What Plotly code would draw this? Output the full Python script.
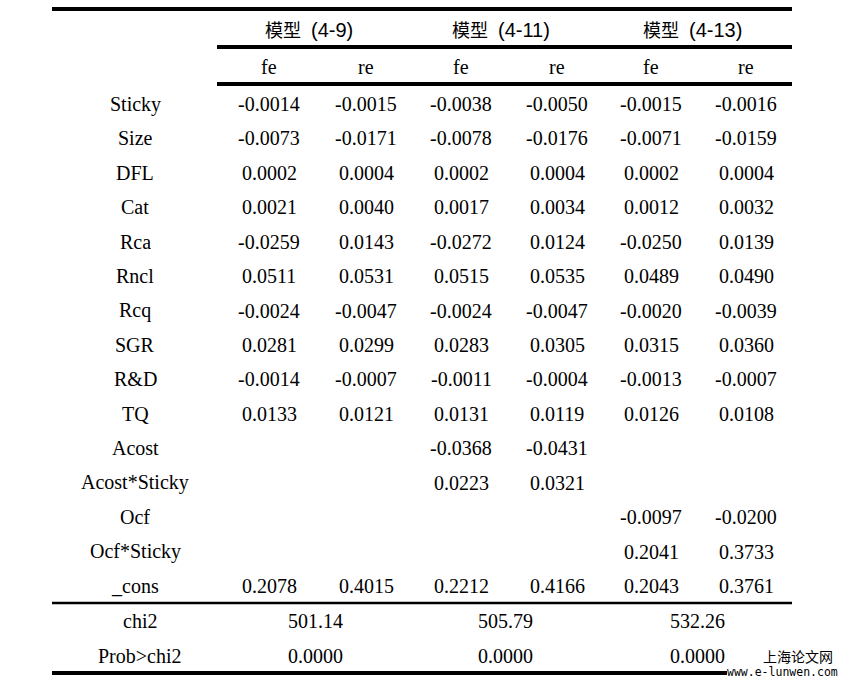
import plotly.graph_objects as go

rows = ["Sticky", "Size", "DFL", "Cat", "Rca", "Rncl", "Rcq", "SGR", "R&D", "TQ",
        "Acost", "Acost*Sticky", "Ocf", "Ocf*Sticky", "_cons"]
model_name = "模型"
model_ids = ["(4-9)", "(4-11)", "(4-13)"]
subcols = ["fe", "re", "fe", "re", "fe", "re"]
m49_fe = ["-0.0014", "-0.0073", "0.0002", "0.0021", "-0.0259", "0.0511", "-0.0024", "0.0281", "-0.0014", "0.0133", "", "", "", "", "0.2078"]
m49_re = ["-0.0015", "-0.0171", "0.0004", "0.0040", "0.0143", "0.0531", "-0.0047", "0.0299", "-0.0007", "0.0121", "", "", "", "", "0.4015"]
m411_fe = ["-0.0038", "-0.0078", "0.0002", "0.0017", "-0.0272", "0.0515", "-0.0024", "0.0283", "-0.0011", "0.0131", "-0.0368", "0.0223", "", "", "0.2212"]
m411_re = ["-0.0050", "-0.0176", "0.0004", "0.0034", "0.0124", "0.0535", "-0.0047", "0.0305", "-0.0004", "0.0119", "-0.0431", "0.0321", "", "", "0.4166"]
m413_fe = ["-0.0015", "-0.0071", "0.0002", "0.0012", "-0.0250", "0.0489", "-0.0020", "0.0315", "-0.0013", "0.0126", "", "", "-0.0097", "0.2041", "0.2043"]
m413_re = ["-0.0016", "-0.0159", "0.0004", "0.0032", "0.0139", "0.0490", "-0.0039", "0.0360", "-0.0007", "0.0108", "", "", "-0.0200", "0.3733", "0.3761"]
stat_labels = ["chi2", "Prob>chi2"]
chi2 = ["501.14", "505.79", "532.26"]
prob = ["0.0000", "0.0000", "0.0000"]

FONT = "Liberation Serif"
FS = 20
W, H = 844, 684

col_x = [269, 366, 461, 557, 651, 746]
model_x = [309, 501, 692]
stat_x = [315, 505, 697]
label_x = 135
row_y0, row_dy = 104, 34.43

anns = []
def add(x, y, text, size=FS, family=FONT, color="black", xanchor="center"):
    anns.append(dict(x=x, y=y, xref="x", yref="y", text=text, showarrow=False,
                     xanchor=xanchor, yanchor="middle",
                     font=dict(family=family, size=size, color=color)))

for mx, mid in zip(model_x, model_ids):
    txt = (f'<span style="font-family:Noto Sans CJK SC;font-size:18px">{model_name}</span>'
           f'\u2002{mid}')
    add(mx, 29, txt, size=20, family="Liberation Sans Narrow, Liberation Sans")
for cx, s in zip(col_x, subcols):
    add(cx, 67, s)

cols = [m49_fe, m49_re, m411_fe, m411_re, m413_fe, m413_re]
for i, r in enumerate(rows):
    y = row_y0 + i * row_dy
    add(label_x, y, r)
    for cx, col in zip(col_x, cols):
        if col[i]:
            add(cx, y, col[i])

add(140, 621, stat_labels[0])
add(140, 656, stat_labels[1])
for sx, v in zip(stat_x, chi2):
    add(sx, 621, v)
for sx, v in zip(stat_x, prob):
    add(sx, 656, v)

# watermark
add(798, 656, "上海论文网", size=14, family="Noto Sans CJK SC")
add(782, 672, "www.e-lunwen.com", size=11.5, family="DejaVu Sans Mono")

shapes = []
def hline(x0, x1, y, w):
    shapes.append(dict(type="line", xref="x", yref="y", x0=x0, x1=x1, y0=y, y1=y,
                       line=dict(color="black", width=w)))
hline(52, 792, 9, 4)
hline(217, 792, 47, 4)
hline(217, 792, 84, 4)
hline(52, 792, 603, 2.3)
hline(52, 727, 673, 4)

fig = go.Figure()
fig.update_layout(
    width=W, height=H, margin=dict(l=0, r=0, t=0, b=0),
    paper_bgcolor="white", plot_bgcolor="white",
    xaxis=dict(range=[0, W], visible=False, fixedrange=True),
    yaxis=dict(range=[H, 0], visible=False, fixedrange=True),
    annotations=anns, shapes=shapes, showlegend=False,
)
fig.write_html("out.html", config={"displayModeBar": False},
               post_script="document.body.style.margin='0';")
